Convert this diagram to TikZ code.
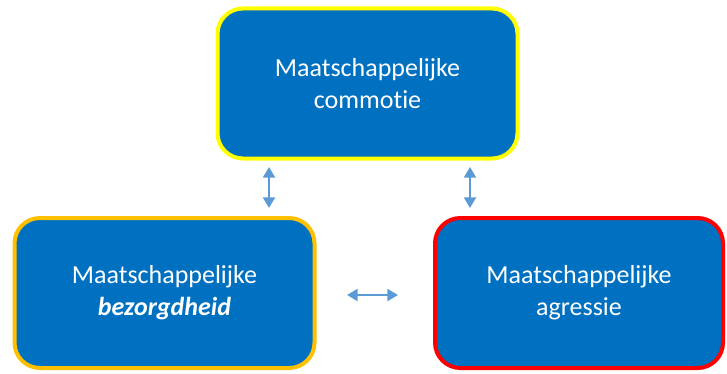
\documentclass[tikz,border=0pt]{standalone}
\usepackage{fontspec}
\setmainfont[Ligatures=NoCommon]{Carlito}
\usetikzlibrary{arrows.meta}
\definecolor{boxblue}{HTML}{0070C0}
\definecolor{arrblue}{HTML}{5B9BD5}
\definecolor{ylw}{HTML}{FFFF00}
\definecolor{org}{HTML}{FFC000}
\definecolor{rd}{HTML}{FF0000}
\tikzset{
  box/.style={draw, line width=3pt, fill=boxblue, rounded corners=19pt, text=white,
    font=\fontsize{19.5}{24}\selectfont, align=center, inner sep=0pt},
  link/.style={arrblue, line width=1.6pt, {Triangle[width=9pt,length=8pt]}-{Triangle[width=9pt,length=8pt]}}
}
\begin{document}
\begin{tikzpicture}[x=0.75pt,y=-0.75pt]
\useasboundingbox (0,0) rectangle (727,374);
\node[box, draw=ylw, minimum width=300*0.75pt, minimum height=150*0.75pt] (top) at (367.5,83.5) {Maatschappelijke\\commotie};
\node[box, draw=org, minimum width=300*0.75pt, minimum height=150*0.75pt] (left) at (164.5,293) {Maatschappelijke\\\textbf{\textit{bezorgdheid}}};
\node[box, draw=rd, minimum width=288*0.75pt, minimum height=150*0.75pt] (right) at (579,293) {Maatschappelijke\\agressie};
\coordinate (a1) at (269,167);
\coordinate (a2) at (269,208);
\coordinate (b1) at (470,167);
\coordinate (b2) at (470,208);
\coordinate (c1) at (347,295);
\coordinate (c2) at (398,295);
\draw[link] (a1) -- (a2);
\draw[link] (b1) -- (b2);
\draw[link] (c1) -- (c2);
\end{tikzpicture}
\end{document}
